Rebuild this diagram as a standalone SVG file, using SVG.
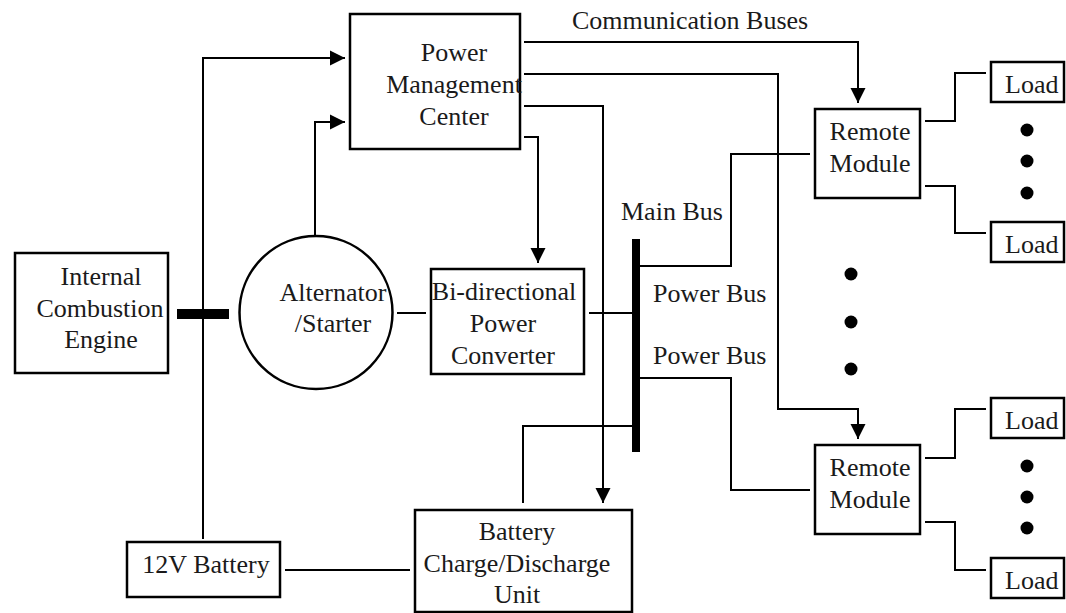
<svg xmlns="http://www.w3.org/2000/svg" width="1066" height="613" viewBox="0 0 1066 613">
<style>
.box{fill:#fff;stroke:#000;stroke-width:2.5}
.ln{fill:none;stroke:#000;stroke-width:2}
.arr{fill:none;stroke:#000;stroke-width:2;marker-end:url(#ah)}
text{font-family:"Liberation Serif","Times New Roman",serif;font-size:26px;fill:#1a1a1a}
.c{text-anchor:middle}
.dot{fill:#000}
</style>
<defs>
<marker id="ah" markerUnits="userSpaceOnUse" markerWidth="16" markerHeight="16" viewBox="0 0 15 16" refX="15" refY="8" orient="auto">
<path d="M0,0.5 L15,8 L0,15.5 Z" fill="#000"/>
</marker>
</defs>
<rect width="1066" height="613" fill="#fff"/>
<g id="connectors">
<polyline class="arr" points="203,539 203,58 345,58"/>
<polyline class="arr" points="315,236 315,122 345,122"/>
<polyline class="arr" points="524,42 858,42 858,103"/>
<polyline class="arr" points="524,74 778,74 778,409 858,409 858,439"/>
<polyline class="arr" points="524,106 603,106 603,503"/>
<polyline class="arr" points="524,137 538,137 538,263"/>
<polyline class="ln" points="640,266 731,266 731,154 810,154"/>
<polyline class="ln" points="640,378 731,378 731,490 810,490"/>
<line class="ln" x1="589" y1="313" x2="632" y2="313"/>
<polyline class="ln" points="632,426 523,426 523,503"/>
<line class="ln" x1="397" y1="313" x2="426" y2="313"/>
<line class="ln" x1="285" y1="570" x2="410" y2="570"/>
<polyline class="ln" points="925,121 955,121 955,73 986,73"/>
<polyline class="ln" points="925,186 955,186 955,233 986,233"/>
<polyline class="ln" points="925,458 955,458 955,409 986,409"/>
<polyline class="ln" points="925,522 955,522 955,570 986,570"/>
<rect id="clutch" x="177" y="309" width="52" height="10" fill="#000"/>
</g>
<g id="main-bus">
<rect x="632" y="239" width="8" height="213" fill="#000"/>
<text x="621" y="220">Main Bus</text>
<text x="653" y="302">Power Bus</text>
<text x="653" y="364">Power Bus</text>
</g>
<g id="comm-label"><text x="572" y="29">Communication Buses</text></g>
<g id="ice">
<rect class="box" x="15" y="253" width="153" height="120"/>
<text class="c" x="101" y="285">Internal</text>
<text class="c" x="100" y="317">Combustion</text>
<text class="c" x="101" y="348">Engine</text>
</g>
<g id="alternator">
<circle cx="316" cy="312.5" r="76.5" fill="#fff" stroke="#000" stroke-width="2.5"/>
<text class="c" x="333" y="301">Alternator</text>
<text class="c" x="333" y="332">/Starter</text>
</g>
<g id="pmc">
<rect class="box" x="350" y="14" width="170" height="135"/>
<text class="c" x="454" y="61">Power</text>
<text class="c" x="454" y="93">Management</text>
<text class="c" x="454" y="125">Center</text>
</g>
<g id="converter">
<rect class="box" x="431" y="269" width="153" height="105"/>
<text class="c" x="504" y="300">Bi-directional</text>
<text class="c" x="503" y="332">Power</text>
<text class="c" x="503" y="364">Converter</text>
</g>
<g id="battery12v">
<rect class="box" x="127" y="542" width="153" height="55"/>
<text class="c" x="206" y="573">12V Battery</text>
</g>
<g id="bcu">
<rect class="box" x="415" y="510" width="217" height="102"/>
<text class="c" x="517" y="540">Battery</text>
<text class="c" x="517" y="572">Charge/Discharge</text>
<text class="c" x="517" y="603">Unit</text>
</g>
<g id="remote1">
<rect class="box" x="815" y="109" width="105" height="89"/>
<text class="c" x="870" y="140">Remote</text>
<text class="c" x="870" y="172">Module</text>
</g>
<g id="remote2">
<rect class="box" x="815" y="445" width="105" height="89"/>
<text class="c" x="870" y="476">Remote</text>
<text class="c" x="870" y="508">Module</text>
</g>
<g id="load1"><rect class="box" x="991" y="62" width="73" height="40"/><text x="1005" y="93">Load</text></g>
<g id="load2"><rect class="box" x="991" y="222" width="73" height="40"/><text x="1005" y="253">Load</text></g>
<g id="load3"><rect class="box" x="991" y="398" width="73" height="40"/><text x="1005" y="429">Load</text></g>
<g id="load4"><rect class="box" x="991" y="558" width="73" height="40"/><text x="1005" y="589">Load</text></g>
<g id="dots">
<circle class="dot" cx="1027" cy="130" r="6.5"/>
<circle class="dot" cx="1027" cy="161" r="6.5"/>
<circle class="dot" cx="1027" cy="193" r="6.5"/>
<circle class="dot" cx="1027" cy="466" r="6.5"/>
<circle class="dot" cx="1027" cy="497" r="6.5"/>
<circle class="dot" cx="1027" cy="528" r="6.5"/>
<circle class="dot" cx="851" cy="274" r="6.5"/>
<circle class="dot" cx="851" cy="322" r="6.5"/>
<circle class="dot" cx="851" cy="369" r="6.5"/>
</g>
</svg>
